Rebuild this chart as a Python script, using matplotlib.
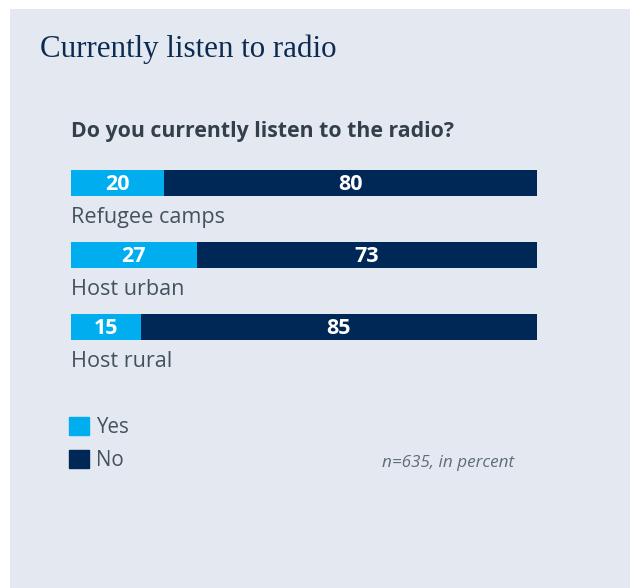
import matplotlib.pyplot as plt
import numpy as np
from matplotlib.patches import Rectangle, Patch

# survey shares, percent
groups = ["Refugee camps", "Host urban", "Host rural"]
yes = [20, 27, 15]
no = [80, 73, 85]

title = "Currently listen to radio"
question = "Do you currently listen to the radio?"
note = "n=635, in percent"

c_yes = "#00aeef"
c_no = "#002856"
c_bg = "#e4e9f1"
c_text = "#44525e"

W, H = 630, 588
fig = plt.figure(figsize=(W / 100, H / 100), dpi=100)
fig.patch.set_facecolor("white")

# panel behind everything
fig.patches.append(Rectangle((10 / W, 0), 1 - 10 / W, 1 - 9 / H,
                             transform=fig.transFigure, facecolor=c_bg,
                             edgecolor="none", zorder=-1))

fig.text(40 / W, 1 - 49 / H, title, family="Liberation Serif", fontsize=22.3,
         color="#0c2b52", va="center", ha="left")
fig.text(71 / W, 1 - 131 / H, question, family="Open Sans", fontsize=15.3,
         weight="bold", color="#333f4a", va="center", ha="left")

# bar area: 72 px per row
ax = fig.add_axes([71 / W, 1 - 363 / H, 466 / W, 216 / H])
ax.set_facecolor("none")
ypos = np.arange(len(groups))
bh = 26.5 / 72
ax.barh(ypos, yes, height=bh, color=c_yes, edgecolor="none")
ax.barh(ypos, no, left=yes, height=bh, color=c_no, edgecolor="none")
for i in range(len(groups)):
    ax.text(yes[i] / 2, ypos[i] + 0.02, str(yes[i]), ha="center", va="center",
            color="white", family="Open Sans", weight="bold", fontsize=15.5)
    ax.text(yes[i] + no[i] / 2, ypos[i] + 0.02, str(no[i]), ha="center",
            va="center", color="white", family="Open Sans", weight="bold",
            fontsize=15.5)
    ax.text(0, ypos[i] + 0.48, groups[i], ha="left", va="center",
            color=c_text, family="Open Sans", fontsize=15.6)
ax.set_xlim(0, 100)
ax.set_ylim(2.5, -0.5)
ax.axis("off")

handles = [Patch(color=c_yes, label="Yes"), Patch(color=c_no, label="No")]
fig.legend(handles=handles, loc="upper left",
           bbox_to_anchor=(69 / W, 1 - 417 / H), frameon=False,
           prop={"family": "Open Sans", "size": 14.8}, labelcolor=c_text,
           handlelength=0.95, handleheight=0.95, handletextpad=0.35,
           labelspacing=0.58, borderpad=0, borderaxespad=0)

fig.text(514 / W, 1 - 463 / H, note, family="Open Sans", style="italic",
         fontsize=12.3, color="#5f6d78", ha="right", va="center")

fig.savefig("out.png", dpi=100, facecolor=fig.get_facecolor())
